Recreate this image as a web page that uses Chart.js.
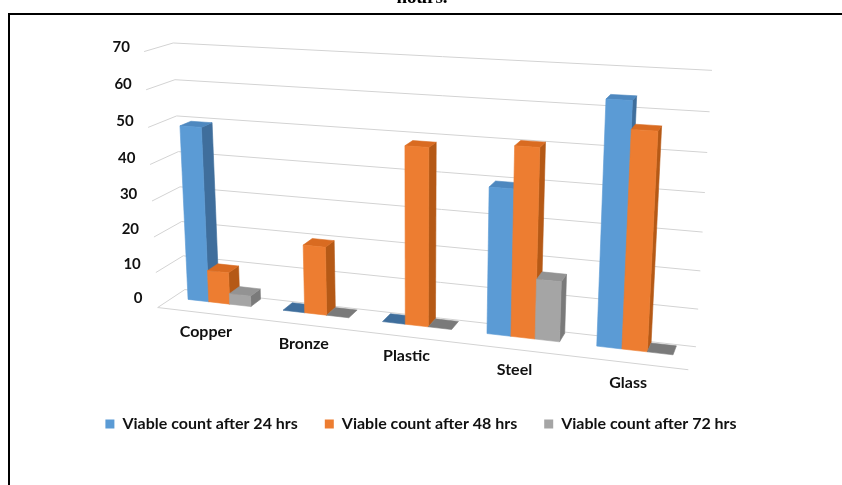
<!DOCTYPE html>
<html>
<head>
<meta charset="utf-8">
<style>
  html, body { margin: 0; padding: 0; background: #ffffff; }
  #wrap { position: relative; width: 842px; height: 485px; overflow: hidden; }
  canvas { display: block; }
</style>
<script src="https://cdn.jsdelivr.net/npm/chart.js@4.4.1/dist/chart.umd.min.js"></script>
</head>
<body>
<div id="wrap"><canvas id="chart" width="842" height="485"></canvas></div>
<script>
// Viable counts per surface material
const surfaces = ['Copper', 'Bronze', 'Plastic', 'Steel', 'Glass'];
const count24h = [49, 0, 0, 39, 63];
const count48h = [9, 19, 48, 50, 56];
const count72h = [3, 0, 0, 16, 0];
const seriesNames = ['Viable count after 24 hrs', 'Viable count after 48 hrs', 'Viable count after 72 hrs'];
const axisMin = 0;
const axisMax = 70;
const axisStep = 10;

// front / top / right-side shades of each series
const shades = [
  { front: '#5B9BD5', top: '#4E88BF', side: '#3F6E9C' },
  { front: '#ED7D31', top: '#D96B21', side: '#B55916' },
  { front: '#A5A5A5', top: '#939393', side: '#7A7A7A' }
];

const FONT = 'Lato, "Open Sans", sans-serif';
const INK = '#111111';

// Perspective camera: world X runs along the category axis, Y is height, Z is depth (0 = front of floor)
function makeCamera(o) {
  const a = o.yaw * Math.PI / 180, e = o.pitch * Math.PI / 180;
  const ca = Math.cos(a), sa = Math.sin(a), ce = Math.cos(e), se = Math.sin(e);
  const tx = o.world.width / 2, ty = o.world.height / 2, tz = o.world.depth / 2;
  return function (X, Y, Z) {
    const px = X - tx, py = Y - ty, pz = Z - tz;
    const x1 = px * ca + pz * sa;
    const z1 = -px * sa + pz * ca;
    const y2 = py * ce + z1 * se;
    const z2 = -py * se + z1 * ce;
    const d = o.distance + z2;
    return { x: o.center[0] + o.focal * x1 / d, y: o.center[1] - o.focal * y2 / d };
  };
}

function fillFace(ctx, pts, color) {
  ctx.beginPath();
  pts.forEach((p, k) => (k ? ctx.lineTo(p.x, p.y) : ctx.moveTo(p.x, p.y)));
  ctx.closePath();
  ctx.fillStyle = color;
  ctx.strokeStyle = color;
  ctx.lineWidth = 0.6;
  ctx.lineJoin = 'round';
  ctx.fill();
  ctx.stroke();
}

function line(ctx, a, b) {
  ctx.beginPath();
  ctx.moveTo(a.x, a.y);
  ctx.lineTo(b.x, b.y);
  ctx.stroke();
}

const columns3d = {
  id: 'columns3d',
  beforeDraw(chart, args, o) {
    const ctx = chart.ctx;
    ctx.save();
    // caption line above the frame
    ctx.fillStyle = '#000';
    ctx.font = 'bold 19px "Liberation Serif", serif';
    ctx.textAlign = 'center';
    ctx.textBaseline = 'alphabetic';
    ctx.fillText('hours.', 422, 3);
    // frame
    ctx.fillRect(8, 13, chart.width, 2);
    ctx.fillRect(8, 13, 2, chart.height);
    ctx.restore();
  },
  beforeDatasetsDraw(chart, args, o) {
    const ctx = chart.ctx;
    const area = chart.chartArea;
    const xs = chart.scales.x, ys = chart.scales.y;
    const W = o.world.width, H = o.world.height, DP = o.world.depth;
    const wx = px => (px - area.left) / (area.right - area.left) * W;
    const wy = py => (area.bottom - py) / (area.bottom - area.top) * H;
    const P = makeCamera(o);

    ctx.save();

    // walls: side wall (X = 0) and back wall (Z = depth) gridlines
    ctx.strokeStyle = o.gridColor;
    ctx.lineWidth = 1;
    ys.ticks.forEach(t => {
      const Y = wy(ys.getPixelForValue(t.value));
      line(ctx, P(0, Y, 0), P(0, Y, DP));
      line(ctx, P(0, Y, DP), P(W, Y, DP));
    });
    // front edge of the floor
    line(ctx, P(0, 0, 0), P(W, 0, 0));

    // value labels on the side wall
    ctx.fillStyle = INK;
    ctx.font = 'bold 15px ' + FONT;
    ctx.textAlign = 'right';
    ctx.textBaseline = 'middle';
    ys.ticks.forEach(t => {
      const Y = wy(ys.getPixelForValue(t.value));
      const p = P(0, Y, DP / 2);
      ctx.fillText(String(t.value), p.x - o.tickGap, p.y);
    });

    // category labels in front of the floor
    ctx.font = 'bold 16px ' + FONT;
    ctx.textAlign = 'center';
    chart.data.labels.forEach((lab, i) => {
      const p = P(wx(xs.getPixelForValue(i)), -o.labelDrop, 0);
      ctx.fillText(lab, p.x, p.y);
    });

    // columns, left to right so nearer (right-hand) blocks cover farther ones
    const metas = chart.data.datasets.map((ds, j) => chart.getDatasetMeta(j));
    chart.data.labels.forEach((lab, i) => {
      metas.forEach((meta, j) => {
        const el = meta.data[i];
        const { x, y, base, width } = el.getProps(['x', 'y', 'base', 'width'], true);
        const X0 = wx(x - width / 2), X1 = wx(x + width / 2);
        const Y0 = wy(base), Y1 = wy(y);
        const Z1 = DP - o.backGap, Z0 = Z1 - (X1 - X0);
        const c = shades[j % shades.length];
        if (Y1 - Y0 < 0.5) {
          fillFace(ctx, [P(X0, Y0, Z0), P(X1, Y0, Z0), P(X1, Y0, Z1), P(X0, Y0, Z1)], c.side);
          return;
        }
        fillFace(ctx, [P(X1, Y0, Z0), P(X1, Y0, Z1), P(X1, Y1, Z1), P(X1, Y1, Z0)], c.side);
        fillFace(ctx, [P(X0, Y1, Z0), P(X1, Y1, Z0), P(X1, Y1, Z1), P(X0, Y1, Z1)], c.top);
        fillFace(ctx, [P(X0, Y0, Z0), P(X1, Y0, Z0), P(X1, Y1, Z0), P(X0, Y1, Z0)], c.front);
      });
    });

    ctx.restore();
    return false;
  }
};

new Chart(document.getElementById('chart'), {
  type: 'bar',
  data: {
    labels: surfaces,
    datasets: [
      { label: seriesNames[0], data: count24h, backgroundColor: shades[0].front },
      { label: seriesNames[1], data: count48h, backgroundColor: shades[1].front },
      { label: seriesNames[2], data: count72h, backgroundColor: shades[2].front }
    ]
  },
  options: {
    responsive: false,
    animation: false,
    events: [],
    layout: { padding: { left: 30, right: 30, top: 40, bottom: 43 } },
    datasets: { bar: { categoryPercentage: 2 / 3, barPercentage: 1 } },
    scales: {
      x: { display: false },
      y: { display: false, min: axisMin, max: axisMax, ticks: { stepSize: axisStep } }
    },
    plugins: {
      tooltip: { enabled: false },
      legend: {
        position: 'bottom',
        labels: {
          boxWidth: 9,
          boxHeight: 9,
          padding: 27,
          color: INK,
          font: { family: FONT, size: 16, weight: 'bold' }
        }
      },
      columns3d: {
        yaw: 18,
        pitch: 15,
        focal: 1335,
        distance: 1335,
        center: [416, 197],
        world: { width: 560, height: 275, depth: 62 },
        backGap: 3.5,
        tickGap: 29,
        labelDrop: 21,
        gridColor: '#d3d3d3'
      }
    }
  },
  plugins: [columns3d]
});
</script>
</body>
</html>
